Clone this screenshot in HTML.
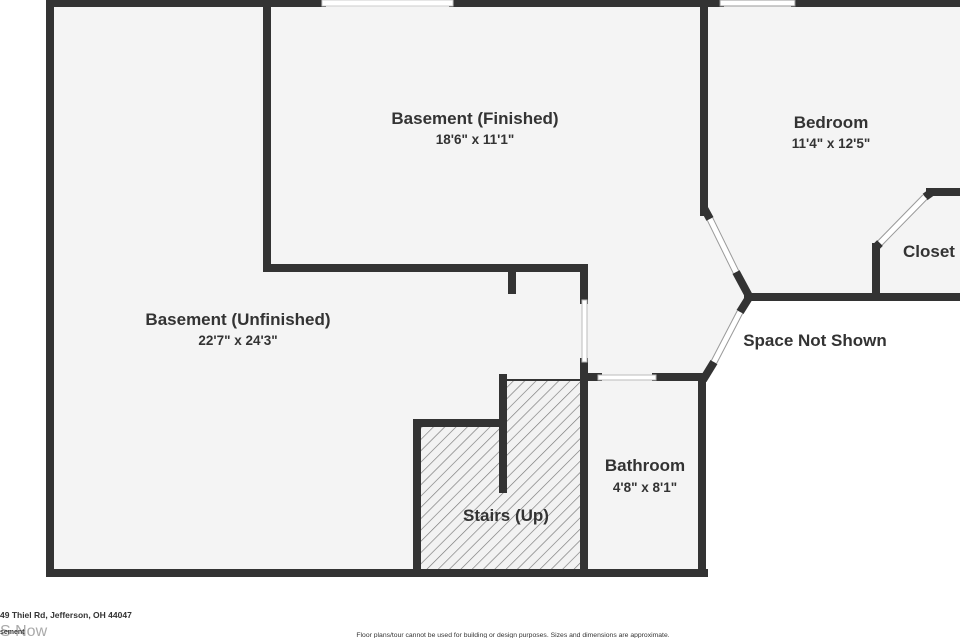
<!DOCTYPE html>
<html><head><meta charset="utf-8"><style>
html,body{margin:0;padding:0;background:#fff;width:960px;height:638px;overflow:hidden}
svg{display:block}
text{font-family:"Liberation Sans","DejaVu Sans",sans-serif;fill:#333;font-weight:bold;text-anchor:middle}
</style></head><body>
<svg width="960" height="638" viewBox="0 0 960 638">
<defs>
<pattern id="h" patternUnits="userSpaceOnUse" width="8" height="8" patternTransform="rotate(45)">
<rect width="8" height="8" fill="#f2f2f2"/><line x1="0" y1="0" x2="0" y2="8" stroke="#777" stroke-width="1.3"/>
</pattern>
</defs>
<rect x="50" y="3" width="654" height="570" fill="#f4f4f4"/>
<polygon points="704,3 960,3 960,297 748,297 704,212" fill="#f4f4f4"/>
<polygon points="704,212 748,297 704,377" fill="#f4f4f4"/>
<polygon points="421,427 503,427 503,381 581,381 581,571 421,571" fill="url(#h)"/>
<g stroke="#333" stroke-width="8" fill="none" stroke-linecap="square">
<line x1="50" y1="3" x2="322" y2="3"/>
<line x1="453" y1="3" x2="720" y2="3"/>
<line x1="795" y1="3" x2="960" y2="3"/>
<line x1="50" y1="3" x2="50" y2="573"/>
<line x1="50" y1="573" x2="704" y2="573"/>
<line x1="267" y1="3" x2="267" y2="268"/>
<line x1="267" y1="268" x2="584" y2="268"/>
<line x1="584" y1="268" x2="584" y2="300"/>
<line x1="584" y1="362" x2="584" y2="573"/>
<line x1="512" y1="268" x2="512" y2="290"/>
<line x1="584" y1="377" x2="598" y2="377"/>
<line x1="656" y1="377" x2="702" y2="377"/>
<line x1="702" y1="377" x2="702" y2="573"/>
<line x1="417" y1="423" x2="417" y2="573"/>
<line x1="417" y1="423" x2="503" y2="423"/>
<line x1="503" y1="378" x2="503" y2="489"/>
<line x1="704" y1="3" x2="704" y2="212"/>
<line x1="748" y1="297" x2="960" y2="297"/>
<line x1="876" y1="247" x2="876" y2="297"/>
<line x1="930" y1="192" x2="960" y2="192"/>
</g>
<line x1="503" y1="380" x2="582" y2="380" stroke="#333" stroke-width="2"/>
<g stroke="#333" stroke-width="8" stroke-linecap="butt">
<line x1="704" y1="208" x2="710" y2="219"/>
<line x1="736" y1="272" x2="750" y2="298"/>
<line x1="750" y1="296" x2="740" y2="312"/>
<line x1="714" y1="362" x2="703" y2="380"/>
<line x1="876" y1="247" x2="880" y2="243"/>
<line x1="925" y1="197" x2="932" y2="192"/>
</g>
<g stroke="#999" stroke-width="7" fill="none">
<line x1="710" y1="219" x2="736" y2="272"/>
<line x1="740" y1="312" x2="714" y2="362"/>
<line x1="880" y1="243" x2="925" y2="197"/>
</g>
<g stroke="#fff" stroke-width="5" fill="none">
<line x1="710" y1="219" x2="736" y2="272"/>
<line x1="740" y1="312" x2="714" y2="362"/>
<line x1="880" y1="243" x2="925" y2="197"/>
</g>
<rect x="582" y="300" width="5" height="62" fill="#fff" stroke="#bbb" stroke-width="1"/>
<rect x="598" y="375" width="58" height="5" fill="#fff" stroke="#bbb" stroke-width="1"/>
<rect x="322" y="0" width="131" height="6" fill="#fff" stroke="#ccc" stroke-width="1"/>
<rect x="720" y="0" width="75" height="6" fill="#fff" stroke="#999" stroke-width="1"/>
<text x="475" y="124" font-size="17">Basement (Finished)</text>
<text x="475" y="144" font-size="13.5">18'6" x 11'1"</text>
<text x="831" y="128" font-size="17">Bedroom</text>
<text x="831" y="148" font-size="13.5">11'4" x 12'5"</text>
<text x="903" y="257" font-size="17" style="text-anchor:start">Closet</text>
<text x="238" y="325" font-size="17">Basement (Unfinished)</text>
<text x="238" y="345" font-size="13.5">22'7" x 24'3"</text>
<text x="815" y="346" font-size="17">Space Not Shown</text>
<text x="645" y="471" font-size="17">Bathroom</text>
<text x="645" y="492" font-size="13.5">4'8" x 8'1"</text>
<text x="506" y="521" font-size="17">Stairs (Up)</text>
<text x="0" y="618" font-size="8.5" style="text-anchor:start">49 Thiel Rd, Jefferson, OH 44047</text>
<text x="0" y="636" font-size="16" style="text-anchor:start;font-weight:normal;fill:#aaa">S Now</text>
<text x="0" y="634" font-size="7" style="text-anchor:start">sement</text>
<text x="513" y="637" font-size="6.8" style="font-weight:normal">Floor plans/tour cannot be used for building or design purposes. Sizes and dimensions are approximate.</text>
</svg>
</body></html>
